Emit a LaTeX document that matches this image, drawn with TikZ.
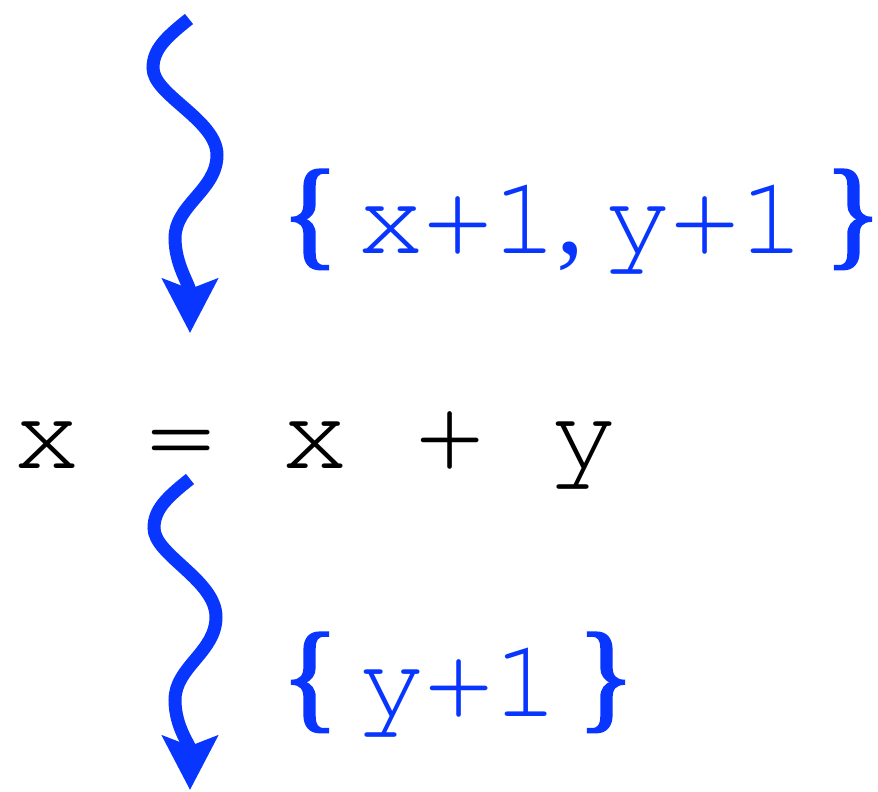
\documentclass[tikz,border=0pt]{standalone}
\usepackage{fontspec}
\usetikzlibrary{arrows.meta}
\newfontfamily\cur{TeX Gyre Cursor}
\newfontfamily\tms{Liberation Serif}
\newfontfamily\tmsb[FakeBold=2.2]{Liberation Serif}
\definecolor{wblue}{RGB}{8,54,255}
\tikzset{
  wavy/.style={draw=wblue, line width=13pt, -{Stealth[length=54pt,width=55pt,inset=10pt]}},
  eqtext/.style={anchor=base, inner sep=0pt, font=\cur\fontsize{112}{120}\selectfont, text=black},
  settext/.style={anchor=base, inner sep=0pt, font=\cur\fontsize{112}{120}\selectfont, text=wblue},
  serifsym/.style={anchor=base, inner sep=0pt, font=\tms\fontsize{112}{120}\selectfont, text=wblue},
  brace/.style={anchor=base, inner sep=0pt, font=\tmsb\fontsize{120}{130}\selectfont, text=wblue}
}
\begin{document}
\begin{tikzpicture}[x=1pt,y=-1pt]
\useasboundingbox (0,0) rectangle (878,792);
% equation
\node[eqtext] (eq) at (315.5,468) {x = x + y};
% top set
\node[brace] (lb1) at (310,253) {\{};
\node[settext] (s1a) at (458,253) {x+1};
\node[serifsym] (c1) at (570,253) {,};
\node[settext] (s1b) at (705,253) {y+1};
\node[brace, anchor=base west] (rb1) at (824,253) {\}\kern-0.12em};
% bottom set
\node[brace] (lb2) at (310,716) {\{};
\node[settext] (s2) at (459,716) {y+1};
\node[brace] (rb2) at (606,716) {\}};
% arrows
\coordinate (a1s) at (189,19);
\coordinate (a1e) at (190,333);
\coordinate (a2s) at (190,479);
\coordinate (a2e) at (190,790);
\draw[wavy] (a1s) .. controls (165,38) and (153,50) .. (153,68)
  .. controls (153,95) and (217,120) .. (217,155)
  .. controls (217,190) and (175,205) .. (175,238)
  .. controls (175,265) and (190,285) .. (a1e);
\draw[wavy] (a2s) .. controls (166,498) and (154,510) .. (154,528)
  .. controls (154,555) and (216,580) .. (216,617)
  .. controls (216,652) and (175,667) .. (175,700)
  .. controls (175,727) and (190,745) .. (a2e);
\end{tikzpicture}
\end{document}
